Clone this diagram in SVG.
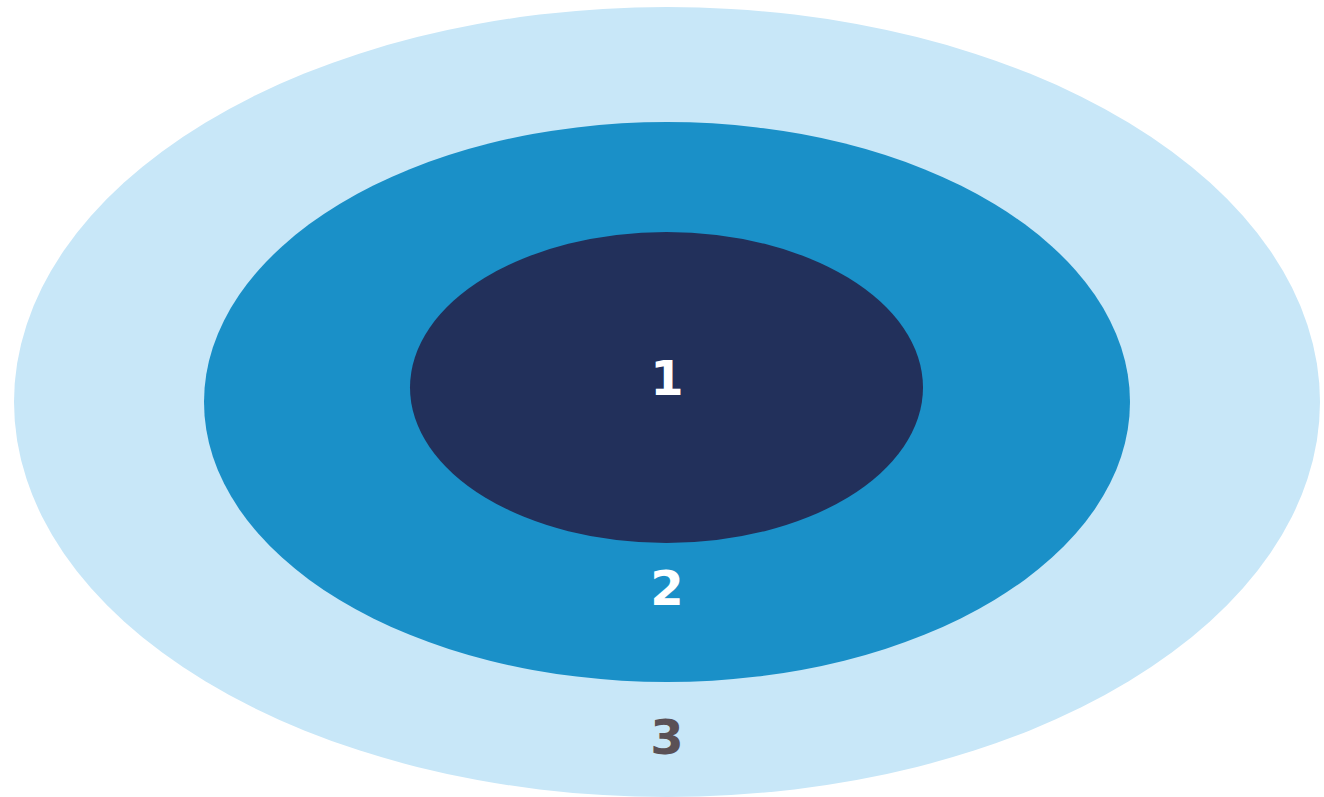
<svg xmlns="http://www.w3.org/2000/svg" width="1324" height="797" viewBox="0 0 1324 797">
<style>
.lbl{font-family:"DejaVu Sans",sans-serif;font-weight:bold;font-size:48px;text-anchor:middle}
</style>
<rect width="1324" height="797" fill="#ffffff"/>
<g id="ring3">
<ellipse cx="667" cy="402" rx="653" ry="395" fill="#c8e7f8"/>
<text class="lbl" x="667" y="754" fill="#5a5055">3</text>
</g>
<g id="ring2">
<ellipse cx="667" cy="402" rx="463" ry="280" fill="#1a90c8"/>
<text class="lbl" x="667" y="605" fill="#ffffff">2</text>
</g>
<g id="ring1">
<ellipse cx="666.5" cy="387.5" rx="256.5" ry="155.5" fill="#22305b"/>
<text class="lbl" x="667" y="395" fill="#ffffff">1</text>
</g>
<g id="connectors"/>
</svg>
